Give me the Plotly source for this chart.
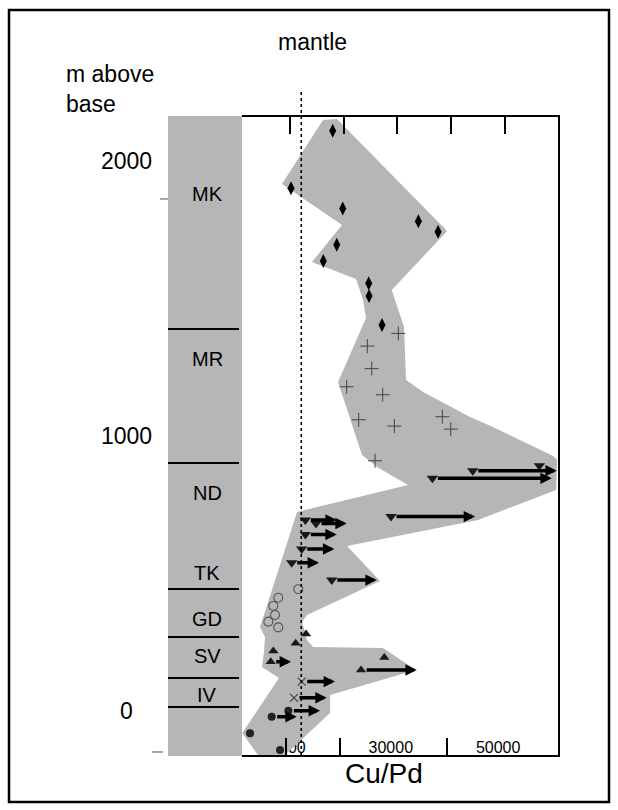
import plotly.graph_objects as go

# ---------------- data ----------------
# Cu/Pd ratio versus stratigraphic height (m above base)
mk_cupd = [17960, 10190, 19830, 33920, 37590, 18710, 16210, 24670, 24730, 27150]
mk_height = [2110, 1901, 1827, 1781, 1743, 1695, 1636, 1555, 1509, 1404]

mr_cupd = [30190, 24410, 25230, 20570, 27280, 22810, 29450, 38390, 39960, 25850]
mr_height = [1373, 1327, 1245, 1179, 1150, 1059, 1036, 1070, 1025, 910]

nd_cupd = [56470, 44060, 36530, 28830, 12860, 14850, 12860, 12180, 10320, 17780]
nd_height = [892, 874, 846, 707, 695, 682, 642, 589, 539, 476]
nd_min_to = [None, 59720, 58780, 44490, 18710, 20570, 18710, 18260, 15410, 26160]

gd_cupd = [11550, 7820, 6890, 7210, 5960, 7820]
gd_height = [443, 412, 382, 349, 325, 304]

sv_cupd = [12990, 11060, 6890, 6410, 27580, 23240]
sv_height = [280, 246, 218, 179, 195, 149]
sv_min_to = [None, None, None, 10190, None, 33620]

iv_cupd = [12180, 10750]
iv_height = [107, 48]
iv_min_to = [18390, 16840]

base_cupd = [9690, 6590, 2550, 8140]
base_height = [1, -21, -81, -142]
base_min_to = [15590, 11250, None, None]

# envelope of the whole profile
env_cupd = [16150, 18760, 39270, 28960, 31250, 31630, 34790, 43560, 47840, 59030,
            59770, 59590, 45050, 20630, 26780, 13170, 12240, 13170, 14290, 27340,
            33490, 17460, 17460, 9070, 4040, 1100, 7950, 4780, 5160, 5340,
            4410, 11310, 32000, 26220, 23420, 20630, 18950, 24170, 23610, 22310,
            14100, 19700, 8510]
env_height = [2149, 2153, 1745, 1531, 1396, 1204, 1160, 1069, 1033, 927,
              913, 804, 695, 600, 473, 349, 324, 258, 233, 229,
              149, 58, -7, -160, -160, -80, 120, 160, 215, 269,
              305, 724, 822, 887, 931, 1095, 1196, 1429, 1495, 1571,
              1633, 1767, 1916]

mantle_cupd = 12100

units = ["MK", "MR", "ND", "TK", "GD", "SV", "IV"]
unit_label_height = [1880, 1280, 793, 502, 335, 200, 58]
unit_boundaries = [1389, 902, 444, 269, 120, 15]

height_ticks = [0, 1000, 2000]
height_ticktext = ["0", "1000", "2000"]
stub_ticks = [-149, 1862]

top_ticks = [10000, 20000, 30000, 40000, 50000]
bottom_ticks = [10000, 20000, 40000]
bottom_labels = [10000, 30000, 50000]

# ---------------- layout helpers ----------------
W, H = 618, 810
FONT = "Liberation Sans, Arial, sans-serif"
GREY = "#b6b6b6"


def fx(p):
    return p / W


def fy(p):
    return 1 - p / H


X_RANGE = [1000, 60000]
Y_RANGE = [-160, 2160]
PX_PER_UNIT = (558.3 - 241.7) / (X_RANGE[1] - X_RANGE[0])
BOTTOM_SHIFT = 3.5 / PX_PER_UNIT

fig = go.Figure()

fig.add_trace(go.Scatter(
    x=env_cupd, y=env_height, mode="lines", fill="toself",
    fillcolor=GREY, line=dict(width=0), hoverinfo="skip"))


def add_points(xs, ys, **marker):
    fig.add_trace(go.Scatter(x=xs, y=ys, mode="markers", marker=marker))


add_points(mk_cupd, mk_height, symbol="diamond-tall", size=10, color="black")
add_points(mr_cupd, mr_height, symbol="cross-thin-open", size=10,
           line=dict(width=1, color="#444444"), color="#444444")
add_points(nd_cupd, nd_height, symbol="triangle-down", size=10, color="#1a1a1a")
add_points(gd_cupd, gd_height, symbol="circle-open", size=9,
           line=dict(width=1.1, color="#555555"), color="#555555")
add_points(sv_cupd, sv_height, symbol="triangle-up", size=9, color="#1a1a1a")
add_points(iv_cupd, iv_height, symbol="x-thin-open", size=8,
           line=dict(width=1.2, color="#444444"), color="#444444")
add_points(base_cupd, base_height, symbol="circle", size=8, color="#222222")

annotations = []

# minimum values shown as arrows
for xs, ys, ends in [(nd_cupd, nd_height, nd_min_to),
                     (sv_cupd, sv_height, sv_min_to),
                     (iv_cupd, iv_height, iv_min_to),
                     (base_cupd, base_height, base_min_to)]:
    for x0, y0, x1 in zip(xs, ys, ends):
        if x1 is None:
            continue
        annotations.append(dict(
            x=x1, y=y0, ax=x0, ay=y0, xref="x", yref="y", axref="x", ayref="y",
            text="", showarrow=True, arrowhead=2, arrowsize=0.65, arrowwidth=3.5,
            arrowcolor="black", startstandoff=4))

shapes = []

# stratigraphic column
shapes.append(dict(type="rect", xref="paper", yref="paper",
                   x0=fx(168), x1=fx(242), y0=fy(756), y1=fy(116),
                   fillcolor=GREY, line=dict(width=0), layer="above"))
for b in unit_boundaries:
    shapes.append(dict(type="line", xref="paper", yref="y",
                       x0=fx(168), x1=fx(239), y0=b, y1=b,
                       line=dict(color="black", width=2)))
for name, h in zip(units, unit_label_height):
    annotations.append(dict(x=fx(207), y=h, xref="paper", yref="y", text=name,
                            showarrow=False, yanchor="middle",
                            font=dict(family=FONT, size=20, color="black")))

# height labels and stub ticks
for v, t in zip(height_ticks, height_ticktext):
    annotations.append(dict(x=fx(126), y=v, xref="paper", yref="y", text=t,
                            showarrow=False, xanchor="center", yanchor="middle",
                            font=dict(family=FONT, size=23, color="black")))
for v, (a, b) in zip(stub_ticks, [(152, 163), (160, 168)]):
    shapes.append(dict(type="line", xref="paper", yref="y", x0=fx(a), x1=fx(b),
                       y0=v, y1=v, line=dict(color="#888888", width=1.5)))

# mantle reference line
shapes.append(dict(type="line", xref="x", yref="paper", x0=mantle_cupd, x1=mantle_cupd,
                   y0=fy(755), y1=fy(89), line=dict(color="black", width=1.6, dash="dot")))

# outer frame
shapes.append(dict(type="rect", xref="paper", yref="paper",
                   x0=fx(9), x1=fx(609), y0=fy(802), y1=fy(10),
                   line=dict(color="black", width=2.5), fillcolor="rgba(0,0,0,0)"))

annotations += [
    dict(x=fx(312), y=fy(42), xref="paper", yref="paper", text="mantle", showarrow=False,
         yanchor="middle", font=dict(family=FONT, size=23, color="black")),
    dict(x=fx(64), y=fy(89), xref="paper", yref="paper", text="m above<br>base",
         showarrow=False, xanchor="left", yanchor="middle", align="left",
         font=dict(family=FONT, size=23, color="black")),
    dict(x=fx(384), y=fy(773), xref="paper", yref="paper", text="Cu/Pd", showarrow=False,
         yanchor="middle", font=dict(family=FONT, size=28, color="black")),
]

fig.update_layout(
    width=W, height=H, margin=dict(l=0, r=0, t=0, b=0),
    paper_bgcolor="white", plot_bgcolor="white", showlegend=False,
    shapes=shapes, annotations=annotations,
    xaxis=dict(domain=[fx(241.7), fx(558.3)], range=X_RANGE, side="top", anchor="y",
               showline=True, linecolor="black", linewidth=2,
               ticks="inside", ticklen=17, tickwidth=1.5, tickcolor="black",
               tickvals=top_ticks, showticklabels=False, showgrid=False, zeroline=False),
    xaxis3=dict(overlaying="x", anchor="y", side="bottom",
                range=[X_RANGE[0] + BOTTOM_SHIFT, X_RANGE[1] + BOTTOM_SHIFT],
                showline=True, linecolor="black", linewidth=2,
                ticks="inside", ticklen=17, tickwidth=1.5, tickcolor="black",
                tickvals=bottom_ticks, showticklabels=False, showgrid=False, zeroline=False),
    xaxis4=dict(overlaying="x", anchor="y", side="bottom",
                range=[X_RANGE[0] + BOTTOM_SHIFT, X_RANGE[1] + BOTTOM_SHIFT],
                showline=False, ticks="", tickvals=bottom_labels,
                ticktext=[str(v) for v in bottom_labels],
                ticklabelposition="inside", ticklabelshift=-3, ticklabelstandoff=-4,
                layer="below traces",
                tickfont=dict(family=FONT, size=16, color="black"),
                showgrid=False, zeroline=False),
    yaxis=dict(domain=[fy(755), fy(117)], range=Y_RANGE, anchor="x", side="right",
               showline=True, linecolor="black", linewidth=2, ticks="",
               showticklabels=False, showgrid=False, zeroline=False),
)

# empty traces so the overlaid bottom axes are laid out
fig.add_trace(go.Scatter(x=[], y=[], xaxis="x3", yaxis="y"))
fig.add_trace(go.Scatter(x=[], y=[], xaxis="x4", yaxis="y"))

fig.write_html("out.html")
